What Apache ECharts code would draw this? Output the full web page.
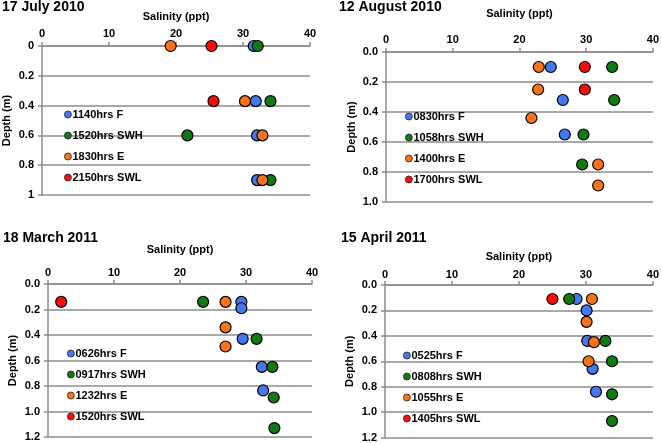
<!DOCTYPE html>
<html>
<head>
<meta charset="utf-8">
<script src="https://cdn.jsdelivr.net/npm/echarts@6/dist/echarts.min.js"></script>
<style>
html,body{margin:0;padding:0;background:#fff;}
#chart{width:662px;height:443px;}
</style>
</head>
<body>
<div id="chart"></div>
<script>
// ---- data: [salinity (ppt), depth (m)] ----
const titles = ['17 July 2010', '12 August 2010', '18 March 2011', '15 April 2011'];
const xTicks = [0, 10, 20, 30, 40];
const depthMax = [1, 1, 1.2, 1.2];

const names1 = ['1140hrs F', '1520hrs SWH', '1830hrs E', '2150hrs SWL'];
const p1F   = [[31.6, 0], [31.9, 0.37], [32.1, 0.6], [32.1, 0.9]];
const p1SWH = [[32.2, 0], [34.1, 0.37], [21.7, 0.6], [34.1, 0.9]];
const p1E   = [[19.2, 0], [30.3, 0.37], [32.9, 0.6], [32.9, 0.9]];
const p1SWL = [[25.3, 0], [25.6, 0.37]];

const names2 = ['0830hrs F', '1058hrs SWH', '1400hrs E', '1700hrs SWL'];
const p2F   = [[24.7, 0.1], [26.5, 0.32], [26.8, 0.55]];
const p2SWH = [[33.9, 0.1], [34.2, 0.32], [29.6, 0.55], [29.4, 0.75]];
const p2E   = [[22.9, 0.1], [22.8, 0.25], [21.8, 0.44], [31.8, 0.75], [31.8, 0.89]];
const p2SWL = [[29.8, 0.1], [29.8, 0.25]];

const names3 = ['0626hrs F', '0917hrs SWH', '1232hrs E', '1520hrs SWL'];
const p3F   = [[29.3, 0.14], [29.3, 0.19], [29.5, 0.43], [32.4, 0.65], [32.6, 0.835]];
const p3SWH = [[23.5, 0.14], [31.6, 0.43], [34.0, 0.65], [34.2, 0.89], [34.3, 1.13]];
const p3E   = [[26.9, 0.14], [26.9, 0.34], [26.9, 0.49]];
const p3SWL = [[2.0, 0.14]];

const names4 = ['0525hrs F', '0808hrs SWH', '1055hrs E', '1405hrs SWL'];
const p4F   = [[28.6, 0.11], [30.1, 0.2], [30.2, 0.44], [31.0, 0.66], [31.5, 0.84]];
const p4SWH = [[27.5, 0.11], [32.9, 0.44], [33.9, 0.6], [33.9, 0.86], [33.9, 1.07]];
const p4E   = [[30.9, 0.11], [30.1, 0.29], [31.2, 0.45], [30.4, 0.6]];
const p4SWL = [[25.0, 0.11]];

const panels = [
  {names: names1, data: [p1F, p1SWH, p1E, p1SWL]},
  {names: names2, data: [p2F, p2SWH, p2E, p2SWL]},
  {names: names3, data: [p3F, p3SWH, p3E, p3SWL]},
  {names: names4, data: [p4F, p4SWH, p4E, p4SWL]}
];

// ---- styling / layout ----
const colors = ['#4677EE', '#127A12', '#FA7318', '#FF0A0A'];
const FONT = 'Liberation Sans, Arial, sans-serif';
const layout = [
  {grid: {left: 41, top: 46, width: 269, height: 149},
   title: {left: 2, top: 0}, xNameGap: 24, xLabelMargin: 7, yNameGap: 30,
   legend: {left: 64, top: 109}},
  {grid: {left: 386, top: 52, width: 269, height: 150},
   title: {left: 339, top: 0}, xNameGap: 33, xLabelMargin: 7, yNameGap: 29,
   legend: {left: 405, top: 111}},
  {grid: {left: 48, top: 284, width: 264, height: 153},
   title: {left: 3, top: 231}, xNameGap: 29, xLabelMargin: 6, yNameGap: 30,
   legend: {left: 67, top: 348}},
  {grid: {left: 385, top: 285, width: 268, height: 154},
   title: {left: 341, top: 231}, xNameGap: 23, xLabelMargin: 5, yNameGap: 30,
   legend: {left: 403, top: 350}}
];

const option = {
  animation: false,
  backgroundColor: '#ffffff',
  textStyle: {fontFamily: FONT},
  title: [], grid: [], xAxis: [], yAxis: [], legend: [], series: []
};

panels.forEach((p, i) => {
  const L = layout[i];
  option.title.push({
    text: titles[i], left: L.title.left, top: L.title.top, padding: 0,
    textStyle: {fontFamily: FONT, fontWeight: 'bold', fontSize: 14, color: '#000'}
  });
  option.grid.push(Object.assign({containLabel: false}, L.grid));
  option.xAxis.push({
    gridIndex: i, type: 'value', position: 'top',
    min: xTicks[0], max: xTicks[xTicks.length - 1], interval: 10,
    name: 'Salinity (ppt)', nameLocation: 'middle', nameGap: L.xNameGap,
    nameTextStyle: {fontFamily: FONT, fontWeight: 'bold', fontSize: 11, color: '#000'},
    axisLine: {show: true, lineStyle: {color: '#8c8c8c', width: 1.5}},
    axisTick: {show: true, length: 4, lineStyle: {color: '#8c8c8c', width: 1.5}},
    axisLabel: {margin: L.xLabelMargin, fontFamily: FONT, fontWeight: 'bold', fontSize: 11, color: '#000'},
    splitLine: {show: false}
  });
  option.yAxis.push({
    gridIndex: i, type: 'value', inverse: true,
    min: 0, max: depthMax[i], interval: 0.2,
    name: 'Depth (m)', nameLocation: 'middle', nameGap: L.yNameGap, nameRotate: 90,
    nameTextStyle: {fontFamily: FONT, fontWeight: 'bold', fontSize: 11, color: '#000'},
    axisLine: {show: true, lineStyle: {color: '#8c8c8c', width: 1.5}},
    axisTick: {show: true, length: 4, lineStyle: {color: '#8c8c8c', width: 1.5}},
    axisLabel: {
      margin: 8, fontFamily: FONT, fontWeight: 'bold', fontSize: 11, color: '#000',
      formatter: v => i === 0 ? String(+v.toFixed(1)) : v.toFixed(1)
    },
    splitLine: {show: true, lineStyle: {color: '#8c8c8c', width: 1.5}}
  });
  option.legend.push({
    orient: 'vertical', left: L.legend.left, top: L.legend.top,
    padding: 0, itemGap: 10, itemWidth: 7, itemHeight: 7, icon: 'circle',
    data: p.names,
    selectedMode: false,
    itemStyle: {borderColor: '#222', borderWidth: 0.8},
    textStyle: {fontFamily: FONT, fontWeight: 'bold', fontSize: 11, color: '#000', padding: [0, 0, 0, -4]}
  });
  p.data.forEach((d, k) => {
    option.series.push({
      type: 'scatter', name: p.names[k], xAxisIndex: i, yAxisIndex: i,
      data: d, symbol: 'circle', symbolSize: 11,
      itemStyle: {color: colors[k], borderColor: '#000', borderWidth: 1.2, opacity: 1},
      z: 3 + k
    });
  });
});

const chart = echarts.init(document.getElementById('chart'), null, {renderer: 'canvas'});
chart.setOption(option);
</script>
</body>
</html>
